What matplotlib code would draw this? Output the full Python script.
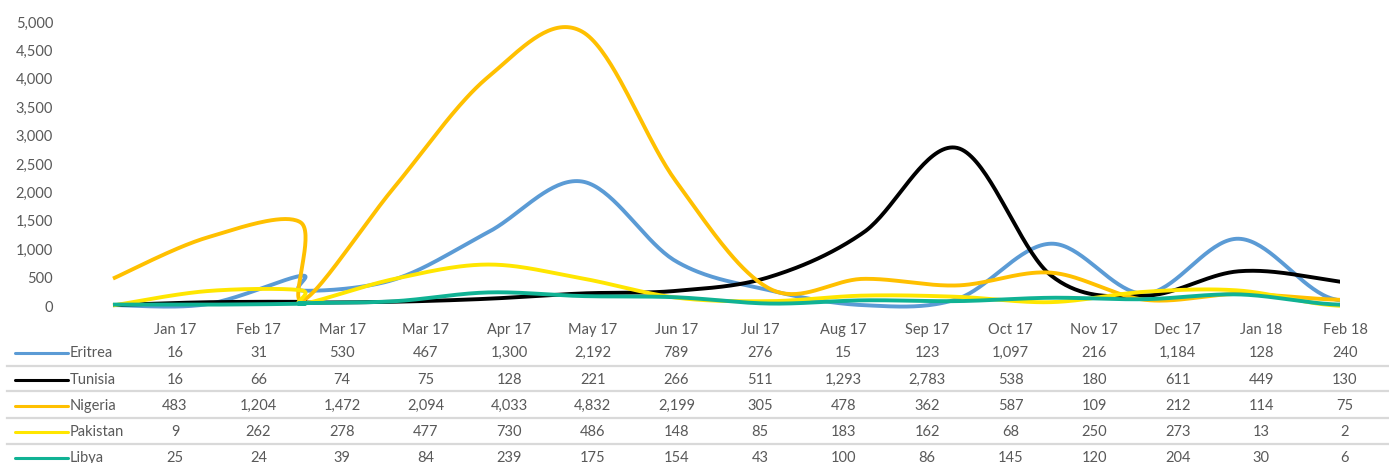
import numpy as np
import matplotlib
matplotlib.use("Agg")
import matplotlib.pyplot as plt
from matplotlib.lines import Line2D

plt.rcParams['font.family'] = ['Lato', 'DejaVu Sans']

# ---------------- data ----------------
months = ["Jan 17", "Feb 17", "Mar 17", "Mar 17", "Apr 17", "May 17", "Jun 17",
          "Jul 17", "Aug 17", "Sep 17", "Oct 17", "Nov 17", "Dec 17", "Jan 18", "Feb 18"]
series_names = ["Eritrea", "Tunisia", "Nigeria", "Pakistan", "Libya"]
eritrea = [16, 31, 530, 467, 1300, 2192, 789, 276, 15, 123, 1097, 216, 1184, 128, 240]
tunisia = [16, 66, 74, 75, 128, 221, 266, 511, 1293, 2783, 538, 180, 611, 449, 130]
nigeria = [483, 1204, 1472, 2094, 4033, 4832, 2199, 305, 478, 362, 587, 109, 212, 114, 75]
pakistan = [9, 262, 278, 477, 730, 486, 148, 85, 183, 162, 68, 250, 273, 13, 2]
libya = [25, 24, 39, 84, 239, 175, 154, 43, 100, 86, 145, 120, 204, 30, 6]
# the plotted lines contain an extra (near-blank) point right after the first "Mar 17"
dip_after = 2
dip_offset = 0.025
dip_values = [270, 60, 100, 40, 50]

colors = ["#5B9BD5", "#000000", "#FFC000", "#FFE600", "#10B294"]
all_values = [eritrea, tunisia, nigeria, pakistan, libya]

W, H = 1389, 463
fig = plt.figure(figsize=(W / 100, H / 100), dpi=100)

# pixel helpers for layout
def fx(px):
    return px / W

def fy(py):
    return 1 - py / H

# chart area geometry (pixels)
x0_px, dx_px = 113.0, 93.8          # position of first point and spacing
ax_left, ax_right = 60.0, 1340.0
y0_px, ytop_px = 306.0, 22.0        # value 0 and 5000
ppu = (y0_px - ytop_px) / 5000.0
ylo, yhi = -250, 5100
ax_bottom_px = y0_px - ylo * ppu
ax_top_px = y0_px - yhi * ppu

ax = fig.add_axes([fx(ax_left), fy(ax_bottom_px), fx(ax_right - ax_left),
                   (ax_bottom_px - ax_top_px) / H])
ax.set_xlim((ax_left - x0_px) / dx_px, (ax_right - x0_px) / dx_px)
ax.set_ylim(ylo, yhi)
for s in ax.spines.values():
    s.set_visible(False)
ax.set_xticks([])
ax.set_yticks(np.arange(0, 5001, 500))
ax.set_yticklabels([f"{v:,}" for v in range(0, 5001, 500)])
ax.tick_params(axis='y', length=0, pad=5, labelsize=10.5, labelcolor="#595959")
ax.patch.set_alpha(0)


def smooth(xs, ys, n=40):
    """Excel-like smoothed line: cubic Bezier with Catmull-Rom tangents (tension 1/6)."""
    P = np.column_stack([xs, ys]).astype(float)
    S = P.copy()
    S[:, 0] *= dx_px
    S[:, 1] *= ppu
    out = []
    m = len(S)
    t = np.linspace(0, 1, n)[:, None]
    for i in range(m - 1):
        p0 = S[i - 1] if i > 0 else S[i]
        p1 = S[i]
        p2 = S[i + 1]
        p3 = S[i + 2] if i + 2 < m else S[i + 1]
        c1 = p1 + (p2 - p0) / 6.0
        c2 = p2 - (p3 - p1) / 6.0
        seg = ((1 - t) ** 3) * p1 + 3 * ((1 - t) ** 2) * t * c1 + 3 * (1 - t) * t ** 2 * c2 + t ** 3 * p2
        out.append(seg if i == 0 else seg[1:])
    out = np.vstack(out)
    out[:, 0] /= dx_px
    out[:, 1] /= ppu
    return out[:, 0], out[:, 1]


idx = np.arange(len(months), dtype=float)
for vals, dip, col in zip(all_values, dip_values, colors):
    xs = np.insert(idx, dip_after + 1, dip_after + dip_offset)
    ys = np.insert(np.array(vals, dtype=float), dip_after + 1, dip)
    sx, sy = smooth(xs, ys)
    ax.plot(sx, sy, color=col, lw=2.8, solid_capstyle='butt', solid_joinstyle='round')

# ---------------- data table ----------------
col0_px, col_dx = 175.0, 83.57
header_y = 330
row_y = [353, 380, 406, 432, 458]
sep_y = [366, 391, 418, 444]
txt_color = "#595959"
fs = 10.5

for i, m in enumerate(months):
    fig.text(fx(col0_px + i * col_dx), fy(header_y), m, ha='center', va='center',
             fontsize=fs, color=txt_color)

for r, (name, vals, col) in enumerate(zip(series_names, all_values, colors)):
    y = fy(row_y[r])
    fig.add_artist(Line2D([fx(15), fx(68)], [y, y], color=col, lw=2.2,
                          solid_capstyle='round', transform=fig.transFigure))
    fig.text(fx(70), y, name, ha='left', va='center', fontsize=fs, color=txt_color)
    for i, v in enumerate(vals):
        fig.text(fx(col0_px + i * col_dx), y, f"{v:,}", ha='center', va='center',
                 fontsize=fs, color=txt_color)

for sy_ in sep_y:
    fig.add_artist(Line2D([fx(7), fx(1389)], [fy(sy_), fy(sy_)], color="#D9D9D9",
                          lw=1.6, transform=fig.transFigure))

fig.savefig("out.png", dpi=100)
